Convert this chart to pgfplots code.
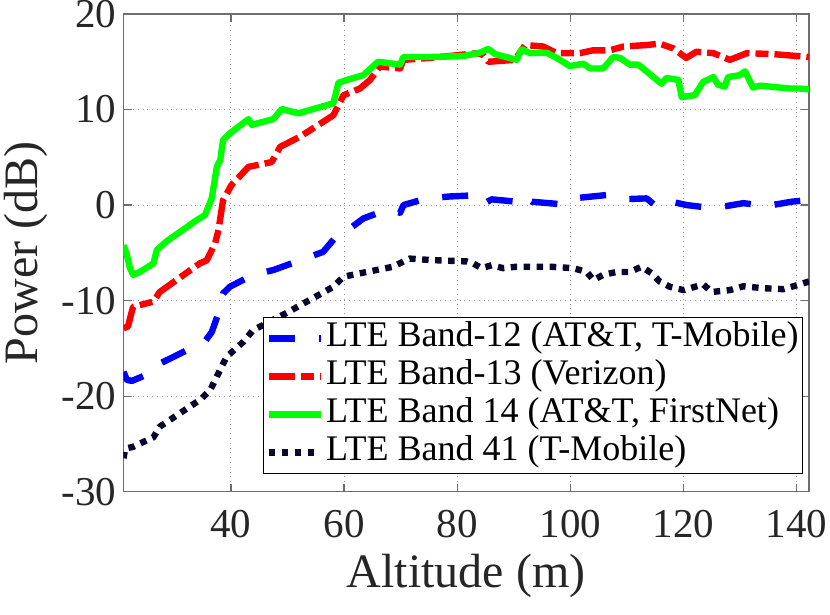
\documentclass[border=0pt]{standalone}
\usepackage{fontspec}
\setmainfont{LiberationSerif}[Extension=.ttf, UprightFont=*-Regular, BoldFont=*-Bold, ItalicFont=*-Italic, BoldItalicFont=*-BoldItalic]
\usepackage{pgfplots}
\pgfplotsset{compat=1.18}
\definecolor{cb}{RGB}{0,0,255}
\definecolor{cr}{RGB}{255,0,0}
\definecolor{cg}{RGB}{0,255,0}
\definecolor{cn}{RGB}{8,8,45}
\definecolor{axgray}{RGB}{110,110,110}
\definecolor{txt}{RGB}{38,38,38}
\begin{document}
\begin{tikzpicture}
\useasboundingbox (0,0) rectangle (415pt,307.5pt);
\begin{axis}[
 at={(61.75pt,61.65pt)}, anchor=south west,
 scale only axis, width=342.75pt, height=238.85pt,
 xmin=21, xmax=142.2, ymin=-30, ymax=20,
 xtick={40,60,...,140}, ytick={-30,-20,...,20},
 grid=major, grid style={dotted, gray!80, line width=0.5pt},
 axis line style={draw=axgray, line width=0.6pt},
 tick style={draw=axgray, line width=0.6pt},
 major tick length=4pt,
 tick align=inside,
 ticklabel style={font=\fontsize{20.5}{24}\selectfont, text=txt},
 /pgf/number format/assume math mode=true,
 xticklabel style={yshift=-5.5pt},
 xlabel={Altitude (m)}, ylabel={Power (dB)},
 label style={font=\fontsize{24}{28}\selectfont, text=txt},
 xlabel style={at={(axis description cs:0.5,-0.201)}, anchor=base},
 ylabel style={at={(axis description cs:-0.125,0.5)}, anchor=base},
 legend style={at={(axis description cs:0.2035,0.3657)}, anchor=north west,
   draw=black, line width=0.6pt, fill=white, inner sep=1pt,
   font=\fontsize{18}{19.5}\selectfont,
   nodes={inner sep=1pt, text height=12.5pt, text depth=4.5pt}, row sep=0pt},
 legend cell align=left,
 legend image code/.code={\draw[#1] (0pt,0pt) -- (26pt,0pt);},
 every axis plot/.append style={line width=3.2pt, line join=round},
]
\addplot[cb, dash pattern=on 13pt off 12pt] coordinates {
(21,-17.45) (21.6,-18.3) (22.5,-18.4) (26.3,-17.45) (27.4,-16.6) (33.9,-14.7)
(35.1,-14.5) (36.6,-13.3) (38.1,-10.8) (38.6,-9.25) (39.8,-8.55) (43.9,-7.3)
(47.5,-6.8) (56.3,-4.9) (59.3,-2.8) (60.7,-2.6) (63.4,-1.4) (67.5,-0.5)
(69.9,-0.8) (70.5,0) (74.6,0.7) (78.7,0.9) (84.0,1.05) (84.9,0.2) (86.1,0.6)
(90.5,0.35) (91.7,1.05) (93.2,0.35) (98.2,0.1) (100.5,0.7) (106.4,1.05)
(108.8,0.6) (113.5,0.7) (114.9,0) (116.7,0.5) (120.6,0) (124.1,-0.25)
(127.6,-0.1) (130.6,0.2) (134.7,-0.1) (139.1,0.35) (141.6,0.5)
};
\addlegendentry{LTE Band-12 (AT\&T, T-Mobile)}
\addplot[cr, dash pattern=on 13pt off 3pt on 6.5pt off 3pt] coordinates {
(21,-12.9) (21.8,-12.7) (22.4,-11.3) (22.7,-10.65) (26.3,-10.1) (27.4,-9.1)
(34.5,-6.1) (35.7,-5.8) (37.2,-4.0) (37.8,-2.6) (38.6,0.5) (40.1,2.1)
(43.1,4.0) (47.2,4.5) (48.7,6.1) (52.2,7.15) (58.1,9.4) (59.9,11.5)
(62.8,12.2) (64.6,13.1) (66.3,14.5) (69.9,14.3) (70.5,15.2) (75.2,15.4)
(83.6,15.9) (84.6,15.7) (85.5,15.0) (90.2,15.2) (92.0,16.75) (95.2,16.6)
(97.6,15.9) (101.7,15.9) (104.0,16.2) (107.0,16.2) (109.4,16.6) (113.5,16.75)
(115.8,16.9) (118.2,16.4) (120.5,15.4) (122.3,16.05) (125.3,15.9) (128.2,15.2)
(131.2,15.9) (135.9,15.8) (142.2,15.5)
};
\addlegendentry{LTE Band-13 (Verizon)}
\addplot[cg] coordinates {
(21,-4.2) (21.5,-5.0) (22.1,-6.5) (22.7,-7.3) (23.9,-7.0) (26.3,-6.1)
(26.9,-4.7) (28.6,-3.8) (33.9,-1.6) (35.4,-1.05) (36.6,0.7) (37.5,4.0)
(38.1,4.7) (38.6,6.8) (39.8,7.5) (43.1,9.0) (43.7,8.4) (47.5,9.0) (49.0,10.05)
(51.9,9.6) (58.1,10.65) (59.0,12.8) (60.5,13.1) (63.4,13.6) (66.0,15.0)
(69.9,14.7) (70.5,15.5) (75.2,15.5) (81.1,15.6) (84.0,15.95) (85.5,16.35)
(86.7,15.8) (90.5,15.2) (91.4,16.3) (92.9,15.9) (95.8,15.95) (97.6,15.4)
(99.9,14.55) (102.3,14.8) (103.5,14.3) (105.8,14.3) (107.6,15.5) (108.8,15.4)
(110.5,14.7) (112.0,14.7) (114.7,13.4) (116.1,12.7) (117.0,13.3) (119.1,13.1)
(119.7,11.3) (122.0,11.5) (123.5,12.9) (125.3,13.4) (126.1,12.6) (127.3,12.4)
(127.9,13.4) (130.0,13.6) (130.9,14.0) (132.3,12.3) (133.5,12.5) (138.8,12.2)
(140.6,12.2) (142.2,12.1)
};
\addlegendentry{LTE Band 14 (AT\&T, FirstNet)}
\addplot[cn, dash pattern=on 3.25pt off 3.25pt] coordinates {
(21,-26.5) (21.3,-25.5) (22.7,-25.3) (26.3,-24.3) (27.4,-23.2) (34.5,-20.4)
(36.3,-19.4) (39.2,-15.9) (42.2,-14.3) (43.9,-13.1) (49.8,-11.3) (58.1,-8.55)
(59.9,-7.5) (64.0,-7.0) (68.7,-6.45) (70.5,-5.9) (71.6,-5.6) (75.2,-5.75)
(81.7,-5.9) (82.8,-6.1) (84.3,-6.6) (86.1,-6.3) (88.1,-6.6) (90.5,-6.45)
(96.4,-6.45) (100.5,-6.6) (102.9,-7.0) (104.1,-7.85) (105.8,-7.3) (108.2,-7.0)
(110.5,-7.0) (112.6,-6.45) (114.4,-7.15) (115.8,-8.0) (117.6,-8.55) (120.0,-8.9)
(123.5,-8.3) (125.0,-9.1) (128.2,-8.9) (130.6,-8.5) (134.1,-8.7) (137.7,-8.8)
(140.0,-8.4) (142.2,-8.0)
};
\addlegendentry{LTE Band 41 (T-Mobile)}
\end{axis}
\end{tikzpicture}
\end{document}
